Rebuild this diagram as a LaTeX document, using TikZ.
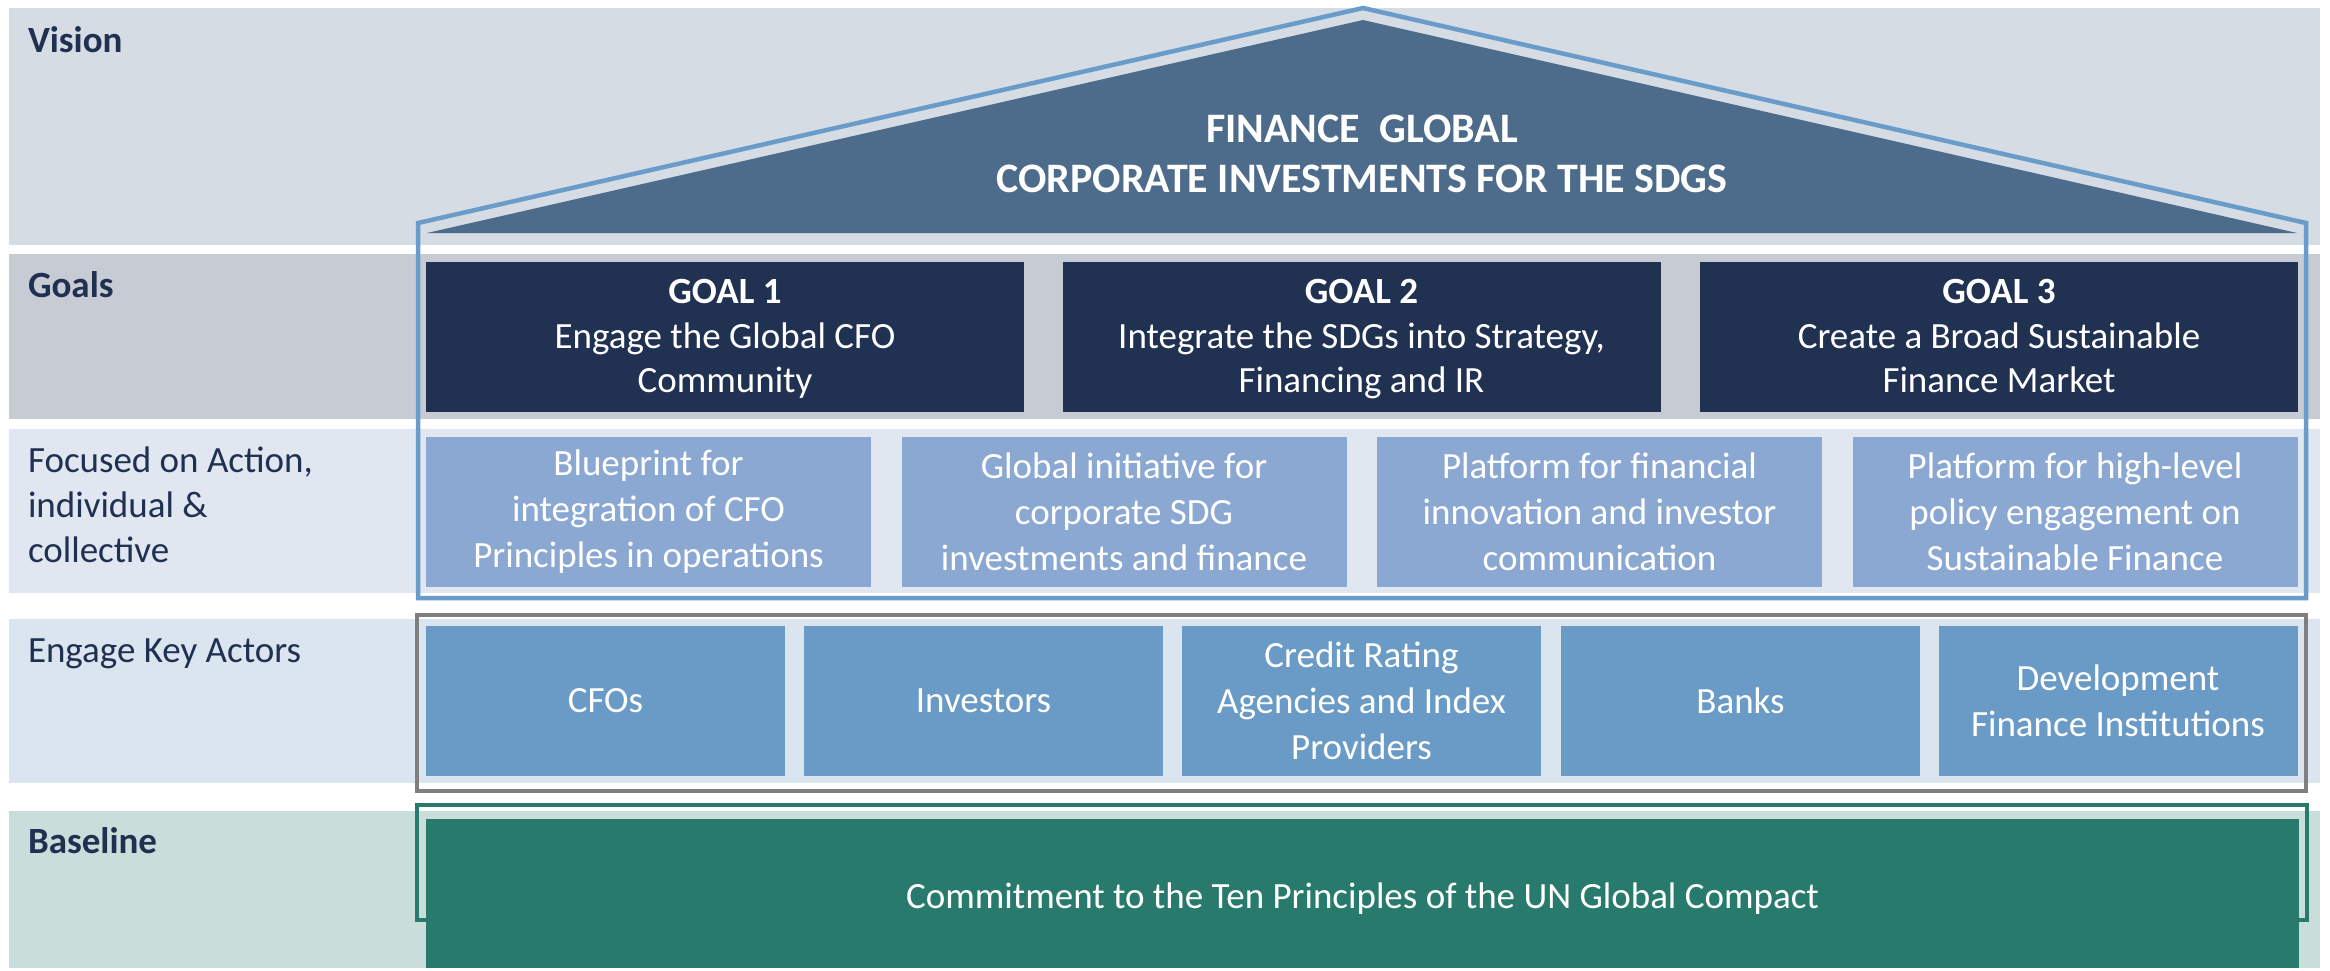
\documentclass[tikz,border=0pt]{standalone}
\usepackage{fontspec}
\setmainfont{Carlito}
\definecolor{navy}{HTML}{1F3050}
\definecolor{visc}{HTML}{D5DCE4}
\definecolor{goalsc}{HTML}{C7CCD4}
\definecolor{focc}{HTML}{E0E7F1}
\definecolor{engc}{HTML}{DAE5EF}
\definecolor{basec}{HTML}{C9DEDA}
\definecolor{goalc}{HTML}{203152}
\definecolor{roofc}{HTML}{4D6B8B}
\definecolor{houseblue}{HTML}{6A9CC9}
\definecolor{actc}{HTML}{8BA8D2}
\definecolor{keyc}{HTML}{6A9BC6}
\definecolor{greenc}{HTML}{287B6C}
\definecolor{grayline}{HTML}{7F7F7F}
\tikzset{
  band/.style={fill=#1, draw=none, inner sep=0pt, outer sep=0pt, minimum width=2311pt},
  lbl/.style={text=navy, font=\fontsize{37}{45}\selectfont, inner sep=0pt, outer sep=0pt},
  boldlbl/.style={lbl, font=\fontsize{37}{45}\selectfont\bfseries},
  goalbox/.style={fill=goalc, text=white, inner sep=0pt, outer sep=0pt, minimum width=598pt, minimum height=150pt, align=center, font=\fontsize{37}{44.5}\selectfont},
  actbox/.style={fill=actc, text=white, inner sep=0pt, outer sep=0pt, minimum width=445pt, minimum height=150pt, align=center, font=\fontsize{37}{46}\selectfont},
  keybox/.style={fill=keyc, text=white, inner sep=0pt, outer sep=0pt, minimum width=359pt, minimum height=150pt, align=center, font=\fontsize{37}{46}\selectfont},
  frame/.style={draw=#1, line width=4pt, fill=none},
}
\newcommand{\toppad}{\rule{0pt}{28.5pt}}
\begin{document}
\begin{tikzpicture}[x=1pt,y=-1pt]
\useasboundingbox (0,0) rectangle (2330,970);
\fill[white] (0,0) rectangle (2330,970);
% bands
\node[band=visc, minimum height=237pt] (vision) at (1164.5,126.5) {};
\node[band=goalsc, minimum height=165pt] (goals) at (1164.5,336.5) {};
\node[band=focc, minimum height=164pt] (focus) at (1164.5,511) {};
\node[band=engc, minimum height=164pt] (engage) at (1164.5,701) {};
\node[band=basec, minimum height=157pt] (base) at (1164.5,889.5) {};
% band labels
\node[boldlbl, anchor=base west] (lvision) at (28,52) {Vision};
\node[boldlbl, anchor=base west] (lgoals) at (28,297) {Goals};
\node[lbl, anchor=north west, align=left] (lfocus) at (28,447) {Focused on Action,\\individual \&\\collective};
\node[lbl, anchor=base west] (lengage) at (28,662) {Engage Key Actors};
\node[boldlbl, anchor=base west] (lbase) at (28,853) {Baseline};
% roof
\coordinate (rl) at (427,233);
\coordinate (rt) at (1363,20);
\coordinate (rr) at (2297,233);
\fill[roofc] (rl) -- (rt) -- (rr) -- cycle;
\node[text=white, align=center, inner sep=0pt, font=\fontsize{42}{50}\selectfont\bfseries] (title) at (1362,154) {FINANCE\ \ GLOBAL\\CORPORATE INVESTMENTS FOR THE SDGS};
% goals
\node[goalbox] (g1) at (725,337) {\toppad\textbf{GOAL 1}\\Engage the Global CFO\\Community};
\node[goalbox] (g2) at (1361.5,337) {\toppad\textbf{GOAL 2}\\Integrate the SDGs into Strategy,\\Financing and IR};
\node[goalbox] (g3) at (1999,337) {\toppad\textbf{GOAL 3}\\Create a Broad Sustainable\\Finance Market\vphantom{y}};
% actions
\node[actbox] (a1) at (648.5,512) {Blueprint for\\integration of CFO\\Principles in operations};
\node[actbox] (a2) at (1124,512) {Global initiative for\\corporate SDG\\investments and finance};
\node[actbox] (a3) at (1599.5,512) {Platform for financial\\innovation and investor\\communication};
\node[actbox] (a4) at (2075,512) {Platform for high-level\\policy engagement on\\Sustainable Finance};
% actors
\node[keybox] (k1) at (605.5,701) {CFOs};
\node[keybox] (k2) at (983.5,701) {Investors};
\node[keybox] (k3) at (1361.5,701) {Credit Rating\\Agencies and Index\\Providers};
\node[keybox] (k4) at (1740.5,701) {Banks};
\node[keybox] (k5) at (2118,701) {Development\\Finance Institutions};
% baseline
\node[frame=greenc, minimum width=1890pt, minimum height=115pt, inner sep=0pt] (gframe) at (1362,862.5) {};
\node[fill=greenc, text=white, inner sep=0pt, minimum width=1873pt, minimum height=149pt, font=\fontsize{37}{45}\selectfont] (gbox) at (1362.5,893.5) {\rule{0pt}{36pt}Commitment to the Ten Principles of the UN Global Compact};
% frames
\node[frame=grayline, minimum width=1889pt, minimum height=176pt, inner sep=0pt] (kframe) at (1361.5,703) {};
\draw[houseblue, line width=4.5pt, line join=miter] (418,598) -- (418,223) -- (1363,8) -- (2306,223) -- (2306,598) -- cycle;
\end{tikzpicture}
\end{document}
